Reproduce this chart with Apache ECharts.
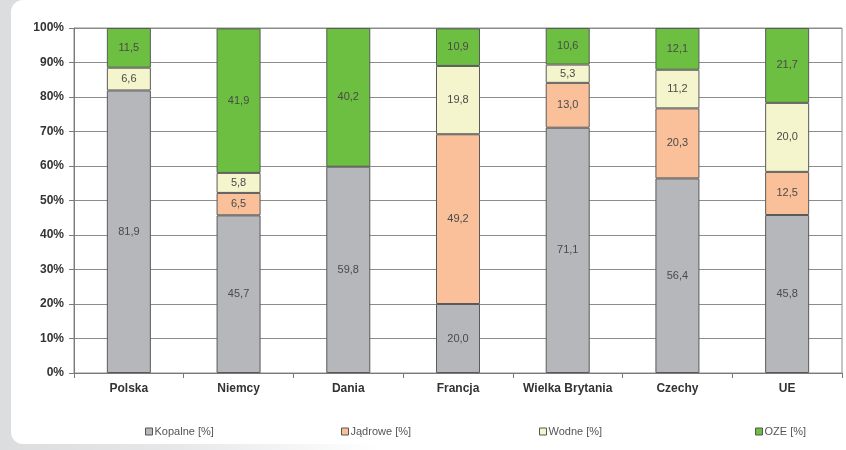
<!DOCTYPE html>
<html>
<head>
<meta charset="utf-8">
<script src="https://cdn.jsdelivr.net/npm/echarts@6/dist/echarts.min.js"></script>
<style>
  html, body { margin: 0; padding: 0; background: #ffffff; }
  #frame { position: relative; width: 846px; height: 450px; overflow: hidden; background: #ffffff; }
  #side { position: absolute; left: 0; top: 0; width: 30px; height: 450px; background: #dcdddf; }
  #foot { position: absolute; left: 0; top: 430px; width: 846px; height: 20px;
          background: linear-gradient(to right, #dcdddf 0%, #e6e7e9 20%, #ffffff 45%); }
  #panel { position: absolute; left: 11px; top: 0; width: 835px; height: 444px;
           background: #ffffff; border-radius: 12px 0 0 12px; }
  #chart { position: absolute; left: 0; top: 0; width: 846px; height: 450px; }
</style>
</head>
<body>
<div id="frame">
  <div id="side"></div>
  <div id="foot"></div>
  <div id="panel"></div>
  <div id="chart"></div>
</div>
<script>
// Electricity generation structure by source, share in %
const countries = ['Polska', 'Niemcy', 'Dania', 'Francja', 'Wielka Brytania', 'Czechy', 'UE'];
const seriesNames = ['Kopalne [%]', 'Jądrowe [%]', 'Wodne [%]', 'OZE [%]'];
const kopalne  = [81.9, 45.7, 59.8, 20.0, 71.1, 56.4, 45.8];
const jadrowe  = [null, 6.5, null, 49.2, 13.0, 20.3, 12.5];
const wodne    = [6.6, 5.8, null, 19.8, 5.3, 11.2, 20.0];
const oze      = [11.5, 41.9, 40.2, 10.9, 10.6, 12.1, 21.7];
const yTicks   = [0, 10, 20, 30, 40, 50, 60, 70, 80, 90, 100];

const values = [kopalne, jadrowe, wodne, oze];
const colors = ['#b5b7ba', '#f9c09a', '#f5f5cd', '#6cbf40'];
const legendLeft = [140, 336, 534, 750];

const fmt = v => v.toFixed(1).replace('.', ',');

const chart = echarts.init(document.getElementById('chart'), null, { renderer: 'canvas' });

const series = seriesNames.map((name, i) => ({
  name: name,
  type: 'bar',
  stack: 'total',
  barWidth: 44,
  data: values[i],
  itemStyle: { color: colors[i], borderColor: '#5a5a5a', borderWidth: 1 },
  label: {
    show: true,
    position: 'inside',
    color: '#4a4a4a',
    fontFamily: 'Liberation Sans, Arial, sans-serif',
    fontSize: 11,
    formatter: p => (p.value == null ? '' : fmt(p.value))
  },
  emphasis: { disabled: true }
}));

const legends = seriesNames.map((name, i) => ({
  data: [name],
  left: legendLeft[i],
  top: 421,
  itemWidth: 7,
  itemHeight: 7,
  itemGap: 2,
  icon: 'rect',
  itemStyle: { borderColor: '#555', borderWidth: 1 },
  textStyle: { color: '#555', fontSize: 11, fontFamily: 'Liberation Sans, Arial, sans-serif', padding: [0, 0, 0, -3] },
  selectedMode: false
}));

chart.setOption({
  animation: false,
  backgroundColor: 'transparent',
  grid: { left: 74, right: 4, top: 28, bottom: 77, show: true, borderColor: '#8c8c8c', borderWidth: 1, backgroundColor: 'transparent' },
  legend: legends,
  xAxis: {
    type: 'category',
    data: countries,
    axisLine: { lineStyle: { color: '#7a7a7a', width: 1 } },
    axisTick: { show: true, alignWithLabel: false, interval: 0, length: 5, lineStyle: { color: '#7a7a7a' } },
    axisLabel: { interval: 0, color: '#333', fontWeight: 'bold', fontSize: 12, margin: 10, fontFamily: 'Liberation Sans, Arial, sans-serif' }
  },
  yAxis: {
    type: 'value',
    min: yTicks[0],
    max: yTicks[yTicks.length - 1],
    interval: yTicks[1] - yTicks[0],
    axisLine: { show: true, lineStyle: { color: '#7a7a7a', width: 1 } },
    axisTick: { show: true, length: 5, lineStyle: { color: '#7a7a7a' } },
    splitLine: { show: true, lineStyle: { color: '#8c8c8c', width: 1 } },
    axisLabel: { color: '#333', fontWeight: 'bold', fontSize: 12, margin: 10, formatter: '{value}%', fontFamily: 'Liberation Sans, Arial, sans-serif' }
  },
  series: series
});
</script>
</body>
</html>
